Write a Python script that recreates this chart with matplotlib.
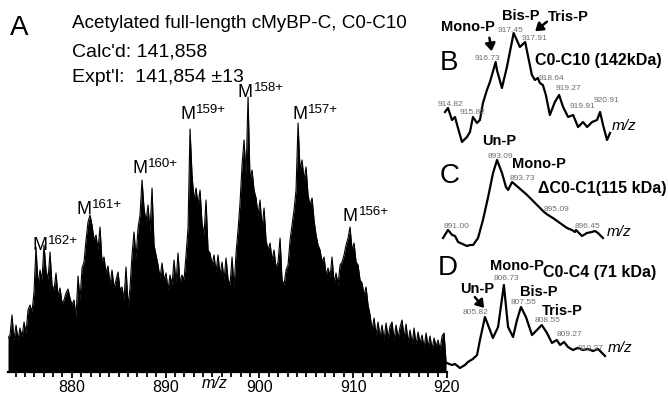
import numpy as np
import matplotlib.pyplot as plt
from matplotlib.patches import FancyArrowPatch
from matplotlib.ticker import MultipleLocator

plt.rcParams['font.family'] = ['Liberation Sans', 'DejaVu Sans']

W, H = 668, 395


def fx(x):
    return x / W


def fy(y):
    return 1 - y / H


# ---- panel A: full-length C0-C10 profile spectrum (intensity, a.u.) ----
a_intensity = [34, 37, 57, 32, 47, 32, 44, 35, 50, 39, 62, 67, 60, 80, 125, 87,
               102, 92, 127, 102, 92, 120, 87, 82, 99, 76, 84, 69, 72, 79, 83, 74,
               67, 72, 55, 96, 72, 104, 110, 132, 150, 157, 147, 132, 137, 122, 145, 110,
               115, 99, 106, 87, 102, 84, 92, 100, 82, 85, 72, 105, 66, 84, 117, 140,
               114, 144, 157, 192, 164, 150, 167, 140, 184, 127, 117, 107, 94, 109, 92, 99,
               82, 97, 87, 112, 89, 119, 89, 97, 92, 117, 144, 243, 197, 172, 184, 167,
               182, 149, 137, 172, 122, 119, 107, 117, 100, 117, 97, 110, 92, 114, 93, 87,
               115, 84, 119, 142, 169, 207, 232, 197, 275, 192, 202, 182, 174, 157, 172, 144,
               164, 132, 122, 129, 112, 122, 104, 110, 134, 92, 87, 102, 107, 132, 147, 162,
               182, 249, 202, 212, 192, 205, 177, 167, 174, 152, 137, 127, 122, 110, 115, 97,
               104, 95, 115, 89, 99, 87, 107, 110, 117, 127, 134, 145, 122, 129, 110, 107,
               92, 89, 77, 85, 67, 57, 42, 54, 37, 50, 35, 47, 32, 49, 34, 46,
               50, 32, 47, 34, 45, 52, 34, 48, 30, 42, 28, 44, 27, 40, 29, 37,
               24, 39, 25, 36, 23, 34, 26, 32, 22, 36, 39, 10]
# uniformly sampled m/z axis of the recorded spectrum
a_mz = np.linspace(873.2, 919.9, len(a_intensity))
charge_labels = ['162+', '161+', '160+', '159+', '158+', '157+', '156+']
a_ticks = [880, 890, 900, 910, 920]

# ---- panel B: C0-C10 (142 kDa) ----
b_mz = [914.70, 914.82, 914.98, 915.10, 915.22, 915.38, 915.58, 915.70, 915.82, 915.98,
        916.10, 916.22, 916.38, 916.50, 916.73, 916.78, 916.98, 917.18, 917.45, 917.70,
        917.91, 918.18, 918.30, 918.42, 918.50, 918.62, 918.74, 918.90, 919.10, 919.27,
        919.43, 919.63, 919.83, 920.03, 920.23, 920.39, 920.59, 920.79, 920.91, 921.03,
        921.19, 921.31]
b_int = [38, 42, 30, 33, 22, 8, 13, 18, 33, 27,
         30, 47, 60, 68, 88, 80, 62, 83, 117, 103,
         108, 75, 70, 72, 67, 65, 55, 35, 48, 55,
         43, 33, 35, 23, 28, 23, 28, 30, 38, 25,
         10, 17]
b_peaks = ['914.82', '915.82', '916.73', '917.45', '917.91', '918.64', '919.27', '919.91', '920.91']

# ---- panel C: dC0-C1 (115 kDa) ----
c_mz = [890.79, 891.00, 891.18, 891.30, 891.43, 891.81, 891.94, 892.07, 892.28, 892.49,
        892.71, 892.92, 893.09, 893.30, 893.47, 893.56, 893.73, 893.98, 894.37, 894.71,
        895.09, 895.26, 895.47, 895.77, 896.07, 896.28, 896.41, 896.45, 896.71, 896.92,
        897.13, 897.26, 897.39, 897.60]
c_int = [12, 20, 15, 14, 8, 4, 5, 5, 12, 30,
         53, 77, 90, 77, 63, 60, 68, 63, 55, 47,
         38, 35, 32, 27, 22, 20, 18, 20, 14, 17,
         18, 19, 17, 12]
c_peaks = ['891.00', '893.09', '893.73', '895.09', '896.45']

# ---- panel D: C0-C4 (71 kDa) ----
d_mz = [803.99, 804.23, 804.38, 804.62, 804.86, 805.00, 805.24, 805.44, 805.58, 805.82,
        806.06, 806.20, 806.45, 806.73, 806.93, 807.17, 807.36, 807.55, 807.79, 808.08,
        808.32, 808.55, 808.80, 809.04, 809.27, 809.43, 809.62, 809.81, 810.05, 810.27,
        810.53, 810.77, 811.01, 811.25, 811.45, 811.59]
d_int = [9, 7, 8, 4, 7, 10, 13, 17, 32, 55,
         42, 34, 45, 87, 45, 35, 52, 65, 55, 37,
         42, 47, 39, 29, 32, 27, 30, 25, 22, 24,
         22, 23, 21, 23, 19, 16]
d_peaks = ['805.82', '806.73', '807.55', '808.55', '809.27', '810.27']

fig = plt.figure(figsize=(W / 100, H / 100), dpi=100)

# panel A axes
axA = fig.add_axes([fx(8), fy(372), (447 - 8) / W, (372 - 60) / H])
axA.fill_between(a_mz, 0, a_intensity, color='black', lw=0)
axA.plot(a_mz, a_intensity, color='black', lw=0.8)
axA.set_xlim(873.2, 920.0)
axA.set_ylim(0, 312)
for s in ['top', 'right', 'left']:
    axA.spines[s].set_visible(False)
axA.spines['bottom'].set_linewidth(1.6)
axA.set_yticks([])
axA.set_xticks(a_ticks)
axA.xaxis.set_minor_locator(MultipleLocator(1))
axA.tick_params(axis='x', which='major', direction='out', length=4, width=1.3,
                labelsize=11.5, pad=1.5)
axA.tick_params(axis='x', which='minor', direction='out', length=3.5, width=1.3)
axA.patch.set_alpha(0)
fig.text(fx(215), fy(384), 'm/z', style='italic', fontsize=11.5, ha='center', va='center')


def inset(box, xlim, ylim, mz, inten):
    ax = fig.add_axes([fx(box[0]), fy(box[3]), (box[2] - box[0]) / W, (box[3] - box[1]) / H])
    ax.plot(mz, inten, color='black', lw=1.6, solid_joinstyle='round')
    ax.set_xlim(*xlim)
    ax.set_ylim(*ylim)
    ax.axis('off')
    ax.patch.set_alpha(0)
    return ax


inset((440, 0, 640, 150), (914.50, 922.51), (0, 150), b_mz, b_int)
inset((440, 130, 640, 250), (890.66, 899.18), (0, 120), c_mz, c_int)
inset((440, 250, 640, 372), (803.66, 813.27), (0, 122), d_mz, d_int)

# header text
fig.text(fx(10), fy(28), 'A', fontsize=20, va='center')
fig.text(fx(72), fy(23), 'Acetylated full-length cMyBP-C, C0-C10', fontsize=13.6, va='center')
fig.text(fx(72), fy(52), "Calc'd: 141,858", fontsize=14, va='center')
fig.text(fx(72), fy(78), "Expt'l:  141,854 \u00b113", fontsize=14, va='center')

# charge state labels
m_pos = [(32, 250), (76, 214), (132, 173), (180, 119), (238, 97), (292, 119), (343, 221)]
for lab, (x, y) in zip(charge_labels, m_pos):
    fig.text(fx(x), fy(y), 'M', fontsize=13, va='baseline')
    fig.text(fx(x + 15.5), fy(y - 6), lab, fontsize=9.5, va='baseline')

gray = '#6e6e6e'
bold = dict(fontsize=10.5, fontweight='bold', va='center')

# panel B text
fig.text(fx(440), fy(63), 'B', fontsize=20, va='center')
fig.text(fx(441), fy(27), 'Mono-P', **bold)
fig.text(fx(502), fy(16), 'Bis-P', **bold)
fig.text(fx(548), fy(17), 'Tris-P', **bold)
fig.text(fx(535), fy(61), 'C0-C10 (142kDa)', fontsize=11.5, fontweight='bold', va='center')
b_lab_pos = [(450, 104), (472, 113), (487, 59), (510, 31), (535, 38),
             (551, 79), (568, 88), (583, 106), (607, 101)]
for lab, (x, y) in zip(b_peaks, b_lab_pos):
    fig.text(fx(x), fy(y), lab, fontsize=6, color=gray, ha='center', va='center')
fig.text(fx(612), fy(126), 'm/z', style='italic', fontsize=11, va='center')

# panel C text
fig.text(fx(440), fy(176), 'C', fontsize=20, va='center')
fig.text(fx(482), fy(141), 'Un-P', **bold)
fig.text(fx(512), fy(164), 'Mono-P', **bold)
fig.text(fx(538), fy(188), '\u0394C0-C1(115 kDa)', fontsize=11.5, fontweight='bold', va='center')
c_lab_pos = [(457, 227), (500, 156), (522, 179), (557, 209), (587, 226)]
for lab, (x, y) in zip(c_peaks, c_lab_pos):
    fig.text(fx(x), fy(y), lab, fontsize=6, color=gray, ha='center', va='center')
fig.text(fx(607), fy(232), 'm/z', style='italic', fontsize=11, va='center')

# panel D text
fig.text(fx(438), fy(268), 'D', fontsize=20, va='center')
fig.text(fx(490), fy(266), 'Mono-P', **bold)
fig.text(fx(543), fy(272), 'C0-C4 (71 kDa)', fontsize=11.5, fontweight='bold', va='center')
fig.text(fx(460), fy(289), 'Un-P', **bold)
fig.text(fx(520), fy(292), 'Bis-P', **bold)
fig.text(fx(542), fy(311), 'Tris-P', **bold)
d_lab_pos = [(476, 313), (506, 279), (524, 302), (548, 320), (569, 335), (590, 348)]
for lab, (x, y) in zip(d_peaks, d_lab_pos):
    fig.text(fx(x), fy(y), lab, fontsize=6, color=gray, ha='center', va='center')
fig.text(fx(608), fy(348), 'm/z', style='italic', fontsize=11, va='center')

# arrows
for (x0, y0), (x1, y1) in [((489, 35), (492, 54)), ((549, 20), (533, 33)), ((473, 295), (486, 310))]:
    fig.add_artist(FancyArrowPatch((fx(x0), fy(y0)), (fx(x1), fy(y1)),
                                   transform=fig.transFigure, color='black', lw=1.8,
                                   arrowstyle='-|>,head_width=3,head_length=4.5'))

fig.savefig('out.png', dpi=100)
